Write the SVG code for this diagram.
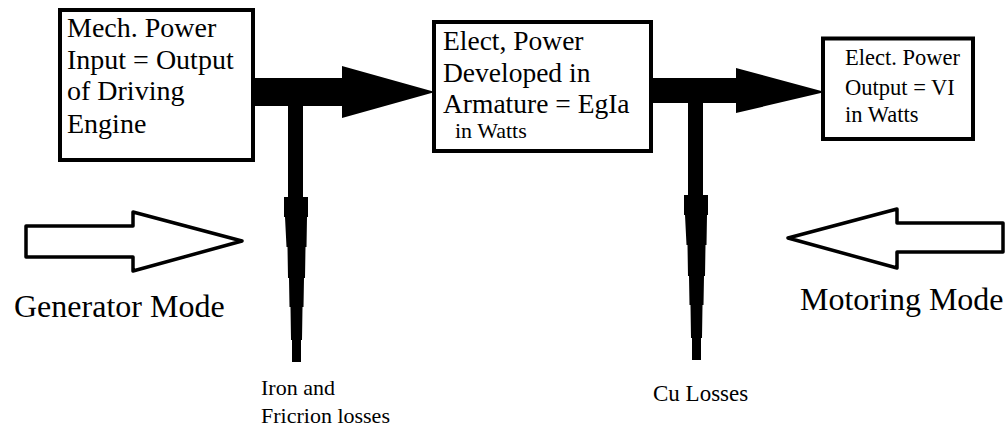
<svg xmlns="http://www.w3.org/2000/svg" width="1008" height="430" viewBox="0 0 1008 430">
<style>
.box{fill:#fff;stroke:#000;stroke-width:4}
text{font-family:"Liberation Serif","Times New Roman","DejaVu Serif",serif;fill:#000}
.hollow{fill:#fff;stroke:#000;stroke-width:3.5;stroke-linejoin:round}
.solid{fill:#000;stroke:none}
</style>
<defs>
<path id="stem" d="M288,104 L303,104 L303,197 L308,197 L308,217 L307,217 L306.5,247 L305.5,247 L305,278 L304,278 L303.5,307 L302.5,307 L302,340 L301,340 L301,362 L292,362 L292,340 L291,340 L290.5,307 L289.5,307 L289,278 L288,278 L287.5,247 L286.5,247 L285,217 L284,217 L284,197 L288,197 Z"/>
</defs>
<g id="connectors">
<path class="solid" d="M253,78 L342,78 L342,66 L435,92 L342,118 L342,106 L253,106 Z"/>
<use href="#stem" class="solid"/>
<path class="solid" d="M651,78 L736,78 L736,68 L825,92 L736,113 L736,103 L651,103 Z"/>
<use href="#stem" class="solid" transform="translate(400,-2)"/>
</g>
<g id="node-mech">
<rect class="box" x="60" y="10" width="193" height="150"/>
<text font-family="Liberation Serif, serif" font-size="28"><tspan x="67" y="37">Mech. Power</tspan><tspan x="67" y="69">Input = Output</tspan><tspan x="67" y="100">of Driving</tspan><tspan x="67" y="133">Engine</tspan></text>
</g>
<g id="node-armature">
<rect class="box" x="434" y="22" width="217" height="129"/>
<text font-family="Liberation Serif, serif" font-size="27.5"><tspan x="443" y="50">Elect, Power</tspan><tspan x="443" y="82">Developed in</tspan><tspan x="443" y="113">Armature = EgIa</tspan></text>
<text font-family="Liberation Serif, serif" font-size="22" x="455" y="138">in Watts</text>
</g>
<g id="node-output">
<rect class="box" x="823" y="38.5" width="150" height="100.5"/>
<text font-family="Liberation Serif, serif" font-size="22.5"><tspan x="845" y="65">Elect. Power</tspan><tspan x="845" y="95">Output = VI</tspan><tspan x="845" y="122">in Watts</tspan></text>
</g>
<g id="node-generator">
<path class="hollow" d="M26,226 L133,226 L133,212 L242,241 L133,271 L133,257 L26,257 Z"/>
<text font-family="Liberation Serif, serif" font-size="32" x="14" y="317">Generator Mode</text>
</g>
<g id="node-motoring">
<path class="hollow" d="M1003,223 L897,223 L897,209 L788,238 L897,268 L897,252 L1003,252 Z"/>
<text font-family="Liberation Serif, serif" font-size="32" x="800" y="310">Motoring Mode</text>
</g>
<g id="node-iron">
<text font-family="Liberation Serif, serif" font-size="22"><tspan x="261" y="395">Iron and</tspan><tspan x="261" y="423">Fricrion losses</tspan></text>
</g>
<g id="node-cu">
<text font-family="Liberation Serif, serif" font-size="23" x="653" y="401">Cu Losses</text>
</g>
</svg>
